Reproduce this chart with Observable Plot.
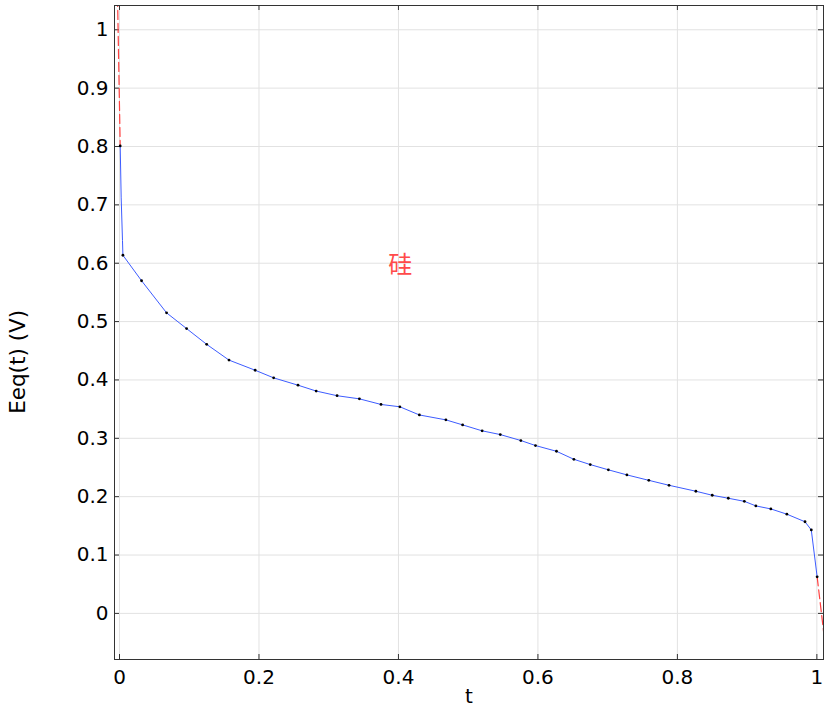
<!DOCTYPE html>
<html>
<head>
<meta charset="utf-8">
<script src="https://cdn.jsdelivr.net/npm/d3@7"></script>
<script src="https://cdn.jsdelivr.net/npm/@observablehq/plot@0.6"></script>
<style>
  html, body { margin: 0; padding: 0; background: #fff; }
  #chart { width: 831px; height: 709px; }
</style>
</head>
<body>
<div id="chart"></div>
<script>
// Sampled points (with markers)
const tVals = [0.001, 0.0049, 0.0316, 0.0675, 0.0962, 0.125, 0.157, 0.1946, 0.221, 0.256, 0.282, 0.312, 0.344, 0.375, 0.402, 0.430, 0.468, 0.492, 0.520, 0.546, 0.5755, 0.5965, 0.6266, 0.6516, 0.675, 0.701, 0.7276, 0.759, 0.788, 0.8265, 0.850, 0.873, 0.896, 0.9125, 0.934, 0.957, 0.983, 0.992, 1.0004];
const eVals = [0.801, 0.6137, 0.570, 0.515, 0.488, 0.461, 0.434, 0.4166, 0.4036, 0.391, 0.381, 0.373, 0.3676, 0.358, 0.354, 0.340, 0.3316, 0.323, 0.3128, 0.3064, 0.2962, 0.2876, 0.2778, 0.264, 0.255, 0.246, 0.2373, 0.228, 0.2195, 0.2093, 0.2024, 0.1973, 0.192, 0.1842, 0.179, 0.170, 0.157, 0.143, 0.0626];
// Extra interpolation points on the steep initial drop (no markers)
const tSteep = [0.0024, 0.0043];
const eSteep = [0.712, 0.639];
// Extrapolated (red dashed) segments
const tExtraLeft = [-0.0035, 0.001];
const eExtraLeft = [1.10, 0.801];
const tExtraRight = [1.0004, 1.0105];
const eExtraRight = [0.0626, -0.040];

const xTicks = [0, 0.2, 0.4, 0.6, 0.8, 1];
const xTickLabels = ["0", "0.2", "0.4", "0.6", "0.8", "1"];
const yTicks = [0, 0.1, 0.2, 0.3, 0.4, 0.5, 0.6, 0.7, 0.8, 0.9, 1];
const yTickLabels = ["0", "0.1", "0.2", "0.3", "0.4", "0.5", "0.6", "0.7", "0.8", "0.9", "1"];

const xLabel = "t";
const yLabel = "Eeq(t) (V)";
const annotation = "硅";

const pts = tVals.map((t, i) => ({t, e: eVals[i]}));
const linePts = pts.concat(tSteep.map((t, i) => ({t, e: eSteep[i]}))).sort((a, b) => a.t - b.t);
const leftExt = tExtraLeft.map((t, i) => ({t, e: eExtraLeft[i]}));
const rightExt = tExtraRight.map((t, i) => ({t, e: eExtraRight[i]}));

const W = 831, H = 709;
const mL = 114, mR = 8, mT = 5, mB = 50;
const plotW = W - mL - mR, plotH = H - mT - mB;
const tickLen = 5;
const frameColor = "#333";

const chart = Plot.plot({
  width: W,
  height: H,
  marginLeft: mL,
  marginRight: mR,
  marginTop: mT,
  marginBottom: mB,
  style: {fontFamily: "DejaVu Sans", fontSize: "20px", background: "#fff", color: "#000"},
  x: {domain: [-0.00717, 1.0095], label: null},
  y: {domain: [-0.079, 1.0416], label: null},
  marks: [
    Plot.gridX(xTicks, {stroke: "#e2e2e2", strokeOpacity: 1}),
    Plot.gridY(yTicks, {stroke: "#e2e2e2", strokeOpacity: 1}),
    Plot.axisX(xTicks, {tickSize: 0, tickPadding: 10, tickFormat: (d, i) => xTickLabels[i], fontSize: 20}),
    Plot.axisY(yTicks, {tickSize: 0, tickPadding: 6, tickFormat: (d, i) => yTickLabels[i], fontSize: 20}),
    // inward ticks on all four sides
    Plot.ruleX(xTicks, {x: d => d, insetTop: plotH - tickLen, stroke: frameColor}),
    Plot.ruleX(xTicks, {x: d => d, insetBottom: plotH - tickLen, stroke: frameColor}),
    Plot.ruleY(yTicks, {y: d => d, insetRight: plotW - tickLen, stroke: frameColor}),
    Plot.ruleY(yTicks, {y: d => d, insetLeft: plotW - tickLen, stroke: frameColor}),
    Plot.line(leftExt, {x: "t", y: "e", stroke: "#ff4040", strokeWidth: 1.2, strokeDasharray: "9,4", clip: true}),
    Plot.line(rightExt, {x: "t", y: "e", stroke: "#ff4040", strokeWidth: 1.2, strokeDasharray: "9,4", clip: true}),
    Plot.line(linePts, {x: "t", y: "e", stroke: "#3d5cff", strokeWidth: 1, clip: true}),
    Plot.dot(pts, {x: "t", y: "e", r: 1.4, fill: "#000", stroke: "none"}),
    Plot.text([annotation], {x: 0.4025, y: 0.596, text: d => d, fill: "#ff4a4a", fontSize: 24, fontFamily: "Noto Sans CJK SC"}),
    Plot.text([xLabel], {frameAnchor: "bottom", dy: 43, text: d => d, fontSize: 20}),
    Plot.text([yLabel], {x: -0.145, y: 0.431, text: d => d, rotate: -90, fontSize: 21.5}),
    Plot.frame({stroke: frameColor, strokeWidth: 1})
  ]
});

document.getElementById("chart").appendChild(chart);
</script>
</body>
</html>
